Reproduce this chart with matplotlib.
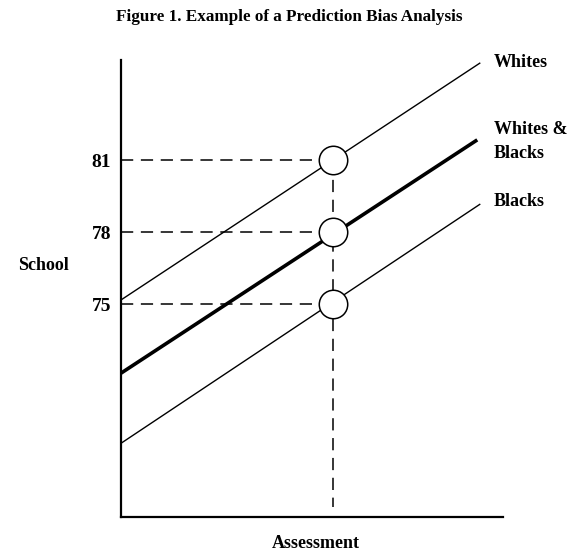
import matplotlib.pyplot as plt

# line end points (assessment 0..10, school score)
groups = ['Whites', 'Whites & Blacks', 'Blacks']
x_start = [0.0, 0.0, 0.0]
x_end = [9.4, 9.32, 9.4]
y_start = [75.17, 72.11, 69.18]
y_end = [85.08, 81.86, 79.18]
widths = [1.0, 2.6, 1.0]

cut_x = 5.55
cut_y = [81, 78, 75]
tick_labels = ['81', '78', '75']

plt.rcParams['font.family'] = ['Liberation Serif', 'DejaVu Serif']
plt.rcParams['font.weight'] = 'bold'

fig = plt.figure(figsize=(5.68, 5.52), dpi=100)
ax = fig.add_axes([0.213, 0.0634, 0.673, 0.828])
ax.set_xlim(0, 10)
ax.set_ylim(66.1, 85.2)

for xs, xe, ys, ye, w in zip(x_start, x_end, y_start, y_end, widths):
    ax.plot([xs, xe], [ys, ye], color='black', lw=w, solid_capstyle='butt', zorder=2)

# dashed guides
dash = (0, (8, 5))
for y in cut_y:
    ax.plot([0, cut_x], [y, y], color='black', lw=1.1, linestyle=dash, zorder=1)
ax.plot([cut_x, cut_x], [cut_y[0], 66.5], color='black', lw=1.1, linestyle=dash, zorder=1)

ax.scatter([cut_x] * 3, cut_y, s=420, facecolor='white', edgecolor='black', linewidth=1.1, zorder=3)

ax.set_yticks(cut_y)
ax.set_yticklabels(tick_labels, fontsize=14, fontweight='bold')
ax.tick_params(axis='y', length=0, pad=7)
ax.set_xticks([])

for side in ['top', 'right']:
    ax.spines[side].set_visible(False)
for side in ['left', 'bottom']:
    ax.spines[side].set_linewidth(1.6)

# group labels at line ends
ax.text(9.75, 85.1, 'Whites', fontsize=13, fontweight='bold', va='center', ha='left')
ax.text(9.75, 81.8, 'Whites &\nBlacks', fontsize=13, fontweight='bold', va='center', ha='left',
        linespacing=1.5)
ax.text(9.75, 79.3, 'Blacks', fontsize=13, fontweight='bold', va='center', ha='left')

fig.text(43 / 568, 1 - 265 / 552, 'School', fontsize=13, fontweight='bold', ha='center', va='center')
fig.text(316 / 568, 1 - 544 / 552, 'Assessment', fontsize=13, fontweight='bold', ha='center', va='center')
fig.text(289 / 568, 1 - 17 / 552, 'Figure 1. Example of a Prediction Bias Analysis', fontsize=12.3,
         fontweight='bold', ha='center', va='center')

fig.savefig('out.png', dpi=100, facecolor='white')
